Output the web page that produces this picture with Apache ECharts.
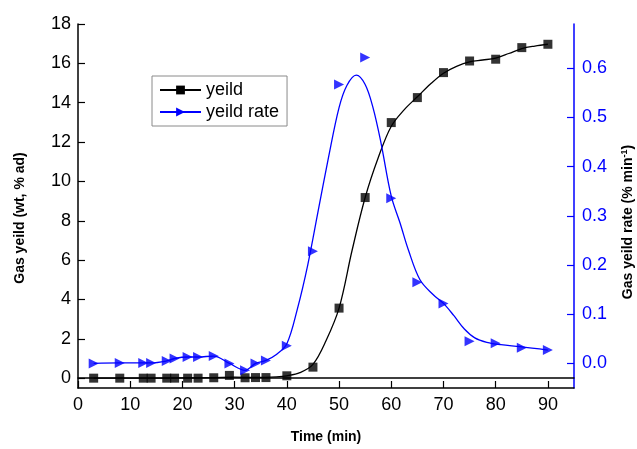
<!DOCTYPE html>
<html>
<head>
<meta charset="utf-8">
<script src="https://cdn.jsdelivr.net/npm/echarts@6/dist/echarts.min.js"></script>
<style>
html,body{margin:0;padding:0;background:#ffffff;}
#chart{width:637px;height:449px;}
</style>
</head>
<body>
<div id="chart"></div>
<script>
// measured points (time in min)
var times = [3, 8, 12.5, 14, 17, 18.5, 21, 23, 26, 29, 32, 34, 36, 40, 45, 50, 55, 60, 65, 70, 75, 80, 85, 90];
var yieldValues = [0, 0, 0, 0, 0, 0, 0, 0, 0.02, 0.14, 0.02, 0.03, 0.03, 0.12, 0.56, 3.56, 9.18, 12.99, 14.26, 15.53, 16.12, 16.21, 16.8, 16.97];
var rateValues = [0, 0.001, 0.001, 0.001, 0.005, 0.01, 0.013, 0.013, 0.015, 0, -0.014, 0, 0.006, 0.036, 0.228, 0.567, 0.622, 0.336, 0.165, 0.122, 0.045, 0.041, 0.032, 0.027];

// fitted curves
var yieldFitTimes = [3, 12, 20, 26, 30, 34, 38, 40, 42.5, 45, 47.5, 50, 52.5, 55, 57.5, 60, 62.5, 65, 67.5, 70, 72.5, 75, 77.5, 80, 82.5, 85, 87.5, 90];
var yieldFitValues = [0, 0, 0.01, 0.03, 0.05, 0.04, 0.07, 0.12, 0.28, 0.7, 1.9, 3.56, 6.5, 9.18, 11.2, 12.8, 13.65, 14.3, 14.95, 15.5, 15.85, 16.08, 16.17, 16.27, 16.5, 16.75, 16.88, 16.97];
var rateFitTimes = [3, 8, 12.5, 14, 17, 18.5, 21, 23, 26, 29, 32, 34, 36, 38, 40, 42, 44, 46, 48, 50, 51.5, 53.3, 55, 56.5, 58, 60, 61.7, 63.3, 65.5, 68, 70, 72, 74, 76, 78.3, 81, 84.7, 90];
var rateFitValues = [0, 0.001, 0.001, 0.001, 0.005, 0.01, 0.013, 0.013, 0.015, 0, -0.014, 0, 0.006, 0.018, 0.04, 0.11, 0.2, 0.31, 0.42, 0.52, 0.565, 0.586, 0.567, 0.52, 0.45, 0.34, 0.285, 0.23, 0.17, 0.14, 0.122, 0.097, 0.07, 0.052, 0.043, 0.038, 0.034, 0.027];

// axis ticks
var xTicks = [0, 10, 20, 30, 40, 50, 60, 70, 80, 90];
var leftTicks = [0, 2, 4, 6, 8, 10, 12, 14, 16, 18];
var rightTicks = [0, 0.1, 0.2, 0.3, 0.4, 0.5, 0.6];

function pairs(a, b) { return a.map(function (t, i) { return [t, b[i]]; }); }

var font = 'Liberation Sans, Arial, sans-serif';
var chart = echarts.init(document.getElementById('chart'), null, {renderer: 'canvas'});
chart.setOption({
  backgroundColor: '#ffffff',
  animation: false,
  textStyle: {fontFamily: font},
  grid: {left: 78, right: 63, top: 24, bottom: 61},
  legend: {
    left: 152, top: 76, orient: 'vertical',
    padding: [5, 8, 5, 7], itemGap: 4, itemWidth: 41, itemHeight: 11,
    borderColor: '#8a8a8a', borderWidth: 1, backgroundColor: '#ffffff',
    textStyle: {fontFamily: font, fontSize: 18, color: '#000'},
    data: ['yeild', 'yeild rate']
  },
  xAxis: [{
    type: 'value', min: 0, max: 95,
    name: 'Time (min)', nameLocation: 'middle', nameGap: 42,
    nameTextStyle: {fontFamily: font, fontSize: 14, fontWeight: 'bold', color: '#000'},
    axisLine: {onZero: false, lineStyle: {color: '#000', width: 1.5}},
    axisTick: {inside: true, length: 7, customValues: xTicks, lineStyle: {color: '#000', width: 1.2}},
    axisLabel: {customValues: xTicks, fontSize: 18, color: '#000', margin: 8},
    splitLine: {show: false}
  }, {
    type: 'value', min: 0, max: 95, position: 'top',
    axisLine: {lineStyle: {color: '#000', width: 1.5}},
    axisTick: {show: false}, axisLabel: {show: false}, splitLine: {show: false}
  }],
  yAxis: [{
    type: 'value', min: -0.5, max: 18, position: 'left',
    axisLine: {onZero: false, lineStyle: {color: '#000', width: 1.5}},
    axisTick: {inside: true, length: 7, customValues: leftTicks, lineStyle: {color: '#000', width: 1.2}},
    axisLabel: {customValues: leftTicks, fontSize: 18, color: '#000', margin: 7},
    splitLine: {show: false}
  }, {
    type: 'value', min: -0.05, max: 0.69, position: 'right',
    axisLine: {onZero: false, lineStyle: {color: '#0000ff', width: 1.5}},
    axisTick: {inside: true, length: 7, customValues: rightTicks, lineStyle: {color: '#0000ff', width: 1.2}},
    axisLabel: {customValues: rightTicks, fontSize: 18, color: '#0000ff', margin: 8,
      formatter: function (v) { return v.toFixed(1); }},
    splitLine: {show: false}
  }],
  graphic: [{
    type: 'text', x: 20, y: 218, rotation: Math.PI / 2,
    style: {text: 'Gas yeild (wt, % ad)', fontFamily: font, fontSize: 14, fontWeight: 'bold', fill: '#000', align: 'center', verticalAlign: 'middle'}
  }, {
    type: 'text', x: 628, y: 222, rotation: Math.PI / 2,
    style: {
      text: '{a|Gas yeild rate (% min}{s|-1}{a|)}',
      align: 'center', verticalAlign: 'middle',
      rich: {
        a: {fontFamily: font, fontSize: 14, fontWeight: 'bold', fill: '#000', color: '#000'},
        s: {fontFamily: font, fontSize: 9, fontWeight: 'bold', color: '#000', padding: [0, 0, 7, 0]}
      }
    }
  }],
  series: [{
    name: 'yeild', type: 'line', xAxisIndex: 0, yAxisIndex: 0,
    data: pairs(yieldFitTimes, yieldFitValues), smooth: 0.35,
    symbol: 'rect', symbolSize: 9, showSymbol: false,
    lineStyle: {color: '#000', width: 1.3}, itemStyle: {color: '#000'}, z: 2
  }, {
    name: 'yeild', type: 'scatter', xAxisIndex: 0, yAxisIndex: 0,
    data: pairs(times, yieldValues), symbol: 'rect', symbolSize: 9,
    itemStyle: {color: '#000'}, z: 3
  }, {
    name: 'yeild rate', type: 'line', xAxisIndex: 0, yAxisIndex: 1,
    data: pairs(rateFitTimes, rateFitValues), smooth: 0.35,
    symbol: 'triangle', symbolRotate: -90, symbolSize: 10, showSymbol: false,
    lineStyle: {color: '#0000ff', width: 1.3}, itemStyle: {color: '#0000ff'}, z: 2
  }, {
    name: 'yeild rate', type: 'scatter', xAxisIndex: 0, yAxisIndex: 1,
    data: pairs(times, rateValues), symbol: 'triangle', symbolRotate: -90, symbolSize: 10,
    itemStyle: {color: '#0000ff'}, z: 3
  }]
});
</script>
</body>
</html>
